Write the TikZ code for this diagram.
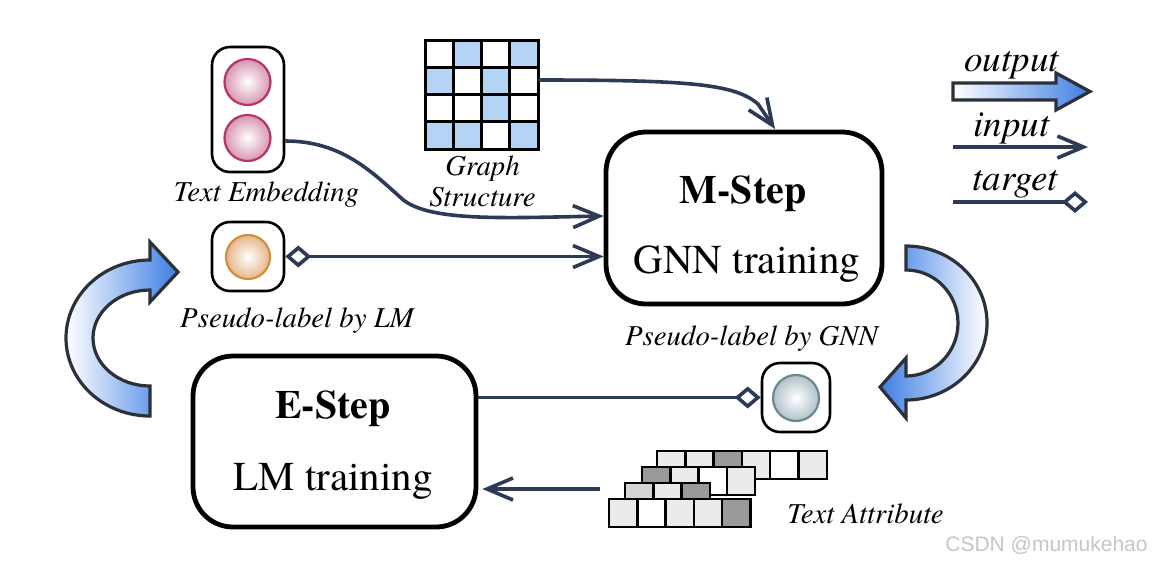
\documentclass[tikz,border=0pt]{standalone}
\usepackage{fontspec}
\IfFontExistsTF{texgyretermes-regular.otf}{%
  \setmainfont{texgyretermes}[Extension=.otf, UprightFont=*-regular, BoldFont=*-bold,
    ItalicFont=*-italic, BoldItalicFont=*-bolditalic]}{%
  \setmainfont{Liberation Serif}}
\newfontfamily\wmfont{Liberation Sans}
\usetikzlibrary{arrows.meta,fit,shadings}
\definecolor{navy}{HTML}{2D3A56}
\definecolor{fatblue}{HTML}{3C7DE4}
\definecolor{fatedge}{HTML}{2C3038}
\definecolor{cellblue}{HTML}{B3D4F5}
\definecolor{celllight}{HTML}{EBEBEB}
\definecolor{cellmid}{HTML}{D4D4D4}
\definecolor{celldark}{HTML}{999999}
\definecolor{pinkedge}{HTML}{B5356B}
\definecolor{pinkout}{HTML}{D795B0}
\definecolor{orgedge}{HTML}{D38E3E}
\definecolor{orgout}{HTML}{E6B68A}
\definecolor{gryedge}{HTML}{6B8794}
\definecolor{gryout}{HTML}{B0C1C9}
\tikzset{
  conn/.style={draw=navy, line width=1.8pt, -{Straight Barb[length=13pt,width=11pt]}},
  tgt/.style={draw=navy, line width=1.8pt, -{Diamond[open,length=13pt,width=11pt,fill=white]}},
  bigbox/.style={draw=black, line width=2.4pt, rounded corners=20pt, inner sep=0pt},
  smallbox/.style={draw=black, line width=1.3pt, rounded corners=9pt, inner sep=0pt},
  fatarrow/.style={draw=fatedge, line width=1.6pt, line join=miter},
  lbl/.style={anchor=base, inner sep=0pt, font=\itshape\fontsize{14.4}{16.5}\selectfont},
  leg/.style={anchor=base, inner sep=0pt, font=\itshape\fontsize{18.5}{20}\selectfont},
  boldt/.style={anchor=base, inner sep=0pt, font=\bfseries\fontsize{20}{24}\selectfont},
  regt/.style={anchor=base, inner sep=0pt, font=\fontsize{20.5}{24}\selectfont},
  cellbox/.style={draw=black, line width=1.2pt},
  ball/.style={circle, inner sep=0pt, minimum size=23pt, line width=1.1pt}
}
\begin{document}
\begin{tikzpicture}[x=0.5pt,y=-0.5pt]
\useasboundingbox (0,0) rectangle (1152,564);
\fill[white] (0,0) rectangle (1152,564);

% ---------- big boxes ----------
\node[bigbox, fit={(606,132) (882,304)}] (m) {};
\node[boldt] (mt1) at (743,203) {M-Step};
\node[regt] (mt2) at (747,273) {GNN training};
\node[bigbox, fit={(193,356) (476,527)}] (e) {};
\node[boldt] (et1) at (333,418) {E-Step};
\node[regt] (et2) at (333,490) {LM training};

% ---------- text embedding ----------
\node[smallbox, fit={(212,47) (284,172)}] (te) {};
\node[ball, draw=pinkedge, inner color=white, outer color=pinkout] (te1) at (247.5,82) {};
\node[ball, draw=pinkedge, inner color=white, outer color=pinkout] (te2) at (247.5,138) {};
\node[lbl] (tel) at (266.5,201) {Text Embedding};

% ---------- pseudo label by LM ----------
\node[smallbox, fit={(212,222) (284,291)}] (lm) {};
\node[ball, minimum size=22pt, draw=orgedge, inner color=white, outer color=orgout] (lmc) at (248,257) {};
\node[lbl] (lml) at (297,327) {Pseudo-label by LM};

% ---------- graph structure ----------
\foreach \r/\c in {0/1,0/3,1/0,1/2,2/2,3/0,3/1,3/3}
  \fill[cellblue] ({425+\c*28.25},{40+\r*27.25}) rectangle ++(28.25,27.25);
\foreach \i in {0,...,4} {
  \draw[line width=1.5pt, line cap=rect] ({425+\i*28.25},40) -- ({425+\i*28.25},149);
  \draw[line width=1.5pt, line cap=rect] (425,{40+\i*27.25}) -- (538,{40+\i*27.25});
}
\node[inner sep=0pt, fit={(425,40) (538,149)}] (gs) {};
\node[lbl] (gsl1) at (482.5,175) {Graph};
\node[lbl] (gsl2) at (482.5,206.5) {Structure};

% ---------- pseudo label by GNN ----------
\node[smallbox, fit={(762,363) (830,432)}] (gnn) {};
\node[ball, draw=gryedge, inner color=white, outer color=gryout] (gnnc) at (796,398) {};
\node[lbl] (gnnl) at (751.5,345) {Pseudo-label by GNN};

% ---------- text attribute ----------
\foreach \rx/\ry/\cl in {657/451/{celllight,celllight,celldark,celllight,white,celllight},
                        642/467/{celldark,celllight,white,celllight},
                        625/483/{cellmid,celllight,celldark},
                        609/499/{celllight,white,celllight,celllight,celldark}} {
  \foreach \cc [count=\i from 0] in \cl
    \draw[cellbox, fill=\cc] ({\rx+\i*28.3},\ry) rectangle ++(28.3,28);
}
\coordinate (ta) at (600,489);
\node[lbl] (tal) at (865.5,523) {Text Attribute};

% ---------- connectors ----------
\coordinate (gsend) at (775,129);
\draw[conn] (te.east |- 0,141) .. controls (340,141) and (370,170) .. (400,197)
            .. controls (425,222) and (500,218) .. (m.west |- 0,216);
\draw[conn] (gs.east |- 0,80) .. controls (690,80) and (735,84) .. (758,104) -- (gsend);
\draw[conn, {Diamond[open,length=13pt,width=11pt,fill=white]}-{Straight Barb[length=13pt,width=11pt]}]
      (lm.east) -- (lm.east -| m.west);
\draw[tgt] (gnn.west -| e.east) -- (gnn.west);
\draw[conn, shorten >=2pt] (ta) -- (ta -| e.east);

% ---------- curved fat arrows ----------
\path[fatarrow, left color=white, right color=fatblue]
  (150,416) arc[start angle=90, end angle=270, x radius=84, y radius=78]
  -- (150,242) -- (178,272) -- (150,302) -- (150,290)
  arc[start angle=270, end angle=90, x radius=57, y radius=48] -- cycle;
\path[fatarrow, left color=fatblue, right color=white]
  (906,246) arc[start angle=-90, end angle=90, x radius=81, y radius=77]
  -- (906,418) -- (880,387) -- (906,358) -- (906,376)
  arc[start angle=90, end angle=-90, x radius=52, y radius=53] -- cycle;

% ---------- legend ----------
\node[leg] (lo) at (1011.5,71.7) {output};
\path[fatarrow, left color=white, right color=fatblue]
  (953,83) -- (1056,83) -- (1056,73) -- (1090,91.5) -- (1056,110) -- (1056,100) -- (953,100) -- cycle;
\node[leg] (li) at (1011.5,136.7) {input};
\coordinate (lis) at (953,147);
\coordinate (lie) at (1088,147);
\draw[conn] (lis) -- (lie);
\node[leg] (lt) at (1015,190) {target};
\coordinate (lts) at (953,202);
\coordinate (lte) at (1088,202);
\draw[tgt] (lts) -- (lte);

% ---------- watermark ----------
\node[anchor=base east, inner sep=0pt, font=\wmfont\fontsize{10.5}{12}\selectfont, text=gray!45] (wm) at (1148,551) {CSDN @mumukehao};
\end{tikzpicture}
\end{document}
